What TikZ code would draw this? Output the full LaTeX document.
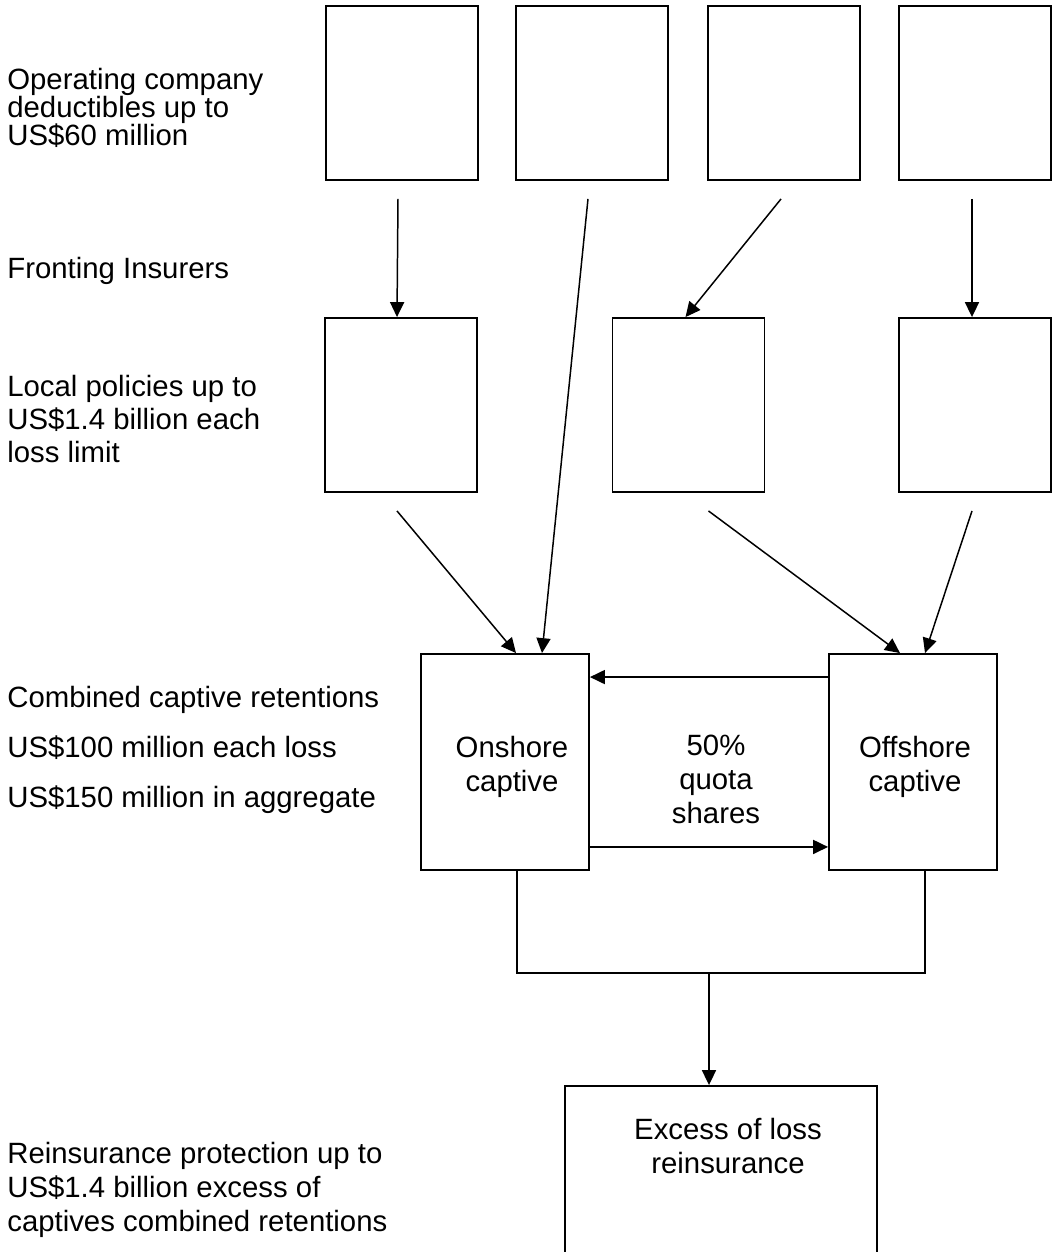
\documentclass[tikz,border=0pt]{standalone}
\usepackage{fontspec}
\setmainfont{Liberation Sans}
\usetikzlibrary{arrows.meta,calc}

\begin{document}
\begin{tikzpicture}[x=0.02cm,y=-0.02cm,
  box/.style={draw,line width=1.1pt,inner sep=0,minimum width=3.04cm,minimum height=3.48cm},
  capt/.style={draw,line width=1.1pt,inner sep=0,minimum width=3.36cm,minimum height=4.32cm},
  lbl/.style={anchor=base west,inner sep=0,align=left,font=\fontsize{16.7}{19.3}\selectfont},
  arr/.style={line width=0.85pt,-{Triangle[length=8.5pt,width=8pt]}},
  conn/.style={line width=0.85pt}]
\useasboundingbox (0,0) rectangle (1052,1252);

% labels down the left side (placed by their last baseline)
\node[lbl,font=\fontsize{16.7}{15.9}\selectfont] (opco) at (7,145) {Operating company\\deductibles up to\\US\$60 million};
\node[lbl] (front) at (7,278) {Fronting Insurers};
\node[lbl,font=\fontsize{16.7}{18.7}\selectfont] (local) at (7,462) {Local policies up to\\US\$1.4 billion each\\loss limit};
\node[lbl,font=\fontsize{16.7}{28.3}\selectfont] (ret) at (7,807) {Combined captive retentions\\US\$100 million each loss\\US\$150 million in aggregate};
\node[lbl] (reins) at (7,1231) {Reinsurance protection up to\\US\$1.4 billion excess of\\captives combined retentions};

% operating companies and fronting insurers
\node[box] (t1) at (402,93) {};
\node[box] (t2) at (592,93) {};
\node[box] (t3) at (784,93) {};
\node[box] (t4) at (975,93) {};
\node[box] (f1) at (401,405) {};
\node[box] (f2) at (688.5,405) {};
\node[box] (f3) at (975,405) {};

% captives
\node[capt] (on) at (505,762) {};
\node[capt] (off) at (913,762) {};
\node[lbl,anchor=base,align=center] (ont) at (512,791) {Onshore\\captive};
\node[lbl,anchor=base,align=center] (offt) at (915,791) {Offshore\\captive};
\node[lbl,anchor=base,align=center] (qs) at (716,823) {50\%\\quota\\shares};

% reinsurance
\node[draw,line width=1.1pt,inner sep=0,minimum width=6.24cm,minimum height=4cm] (xl) at (721,1186) {};
\node[lbl,anchor=base,align=center] (xlt) at (728,1173) {Excess of loss\\reinsurance};

\draw[arr] ($(t1.south)+(-4,18)$) -- ($(f1.north)+(-4,0)$);
\draw[arr] ($(t2.south)+(-4,18)$) -- ($(on.north)+(37,0)$);
\draw[arr] ($(t3.south)+(-3,18)$) -- ($(f2.north)+(-3,0)$);
\draw[arr] ($(t4.south)+(-3,18)$) -- ($(f3.north)+(-3,0)$);
\draw[arr] ($(f1.south)+(-4,18)$) -- ($(on.north)+(11,0)$);
\draw[arr] ($(f2.south)+(20,18)$) -- ($(off.north)+(-13,0)$);
\draw[arr] ($(f3.south)+(-3,18)$) -- ($(off.north)+(12,0)$);
\draw[arr] ($(off.north west)+(0,24)$) -- ($(on.north east)+(0,24)$);
\draw[arr] ($(on.south east)+(0,-24)$) -- ($(off.south west)+(0,-24)$);

\coordinate (jn) at (709,973);
\draw[conn] ($(on.south)+(12,0)$) |- (jn) -| ($(off.south)+(12,0)$);
\draw[arr] (jn) -- (jn |- xl.north);
\end{tikzpicture}
\end{document}
